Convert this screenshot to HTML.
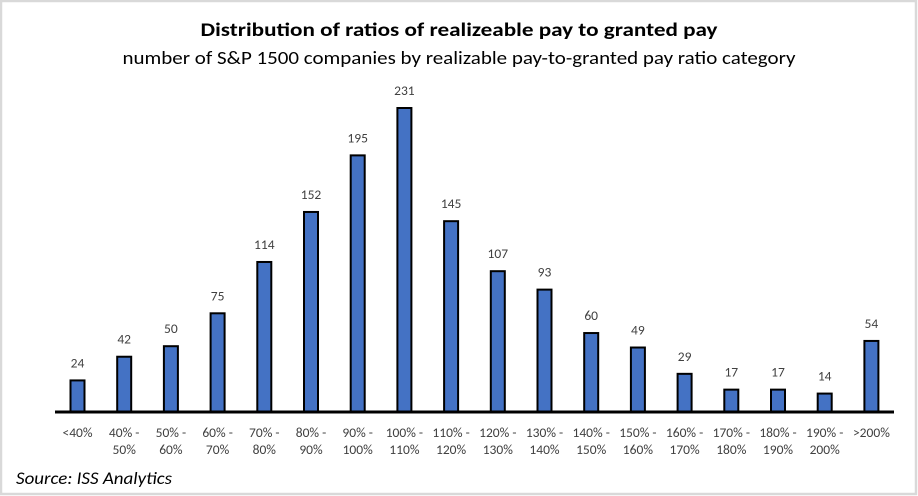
<!DOCTYPE html>
<html><head><meta charset="utf-8"><style>
html,body{margin:0;padding:0;background:#fff}
svg{display:block}
</style></head><body>
<svg width="918" height="496" viewBox="0 0 918 496" xmlns="http://www.w3.org/2000/svg" font-family="Calibri, Carlito, 'Liberation Sans', sans-serif">
<rect x="1" y="1" width="915" height="493" fill="#fff" stroke="#d9d9d9" stroke-width="2.5"/>
<text x="459" y="36" text-anchor="middle" font-size="19" font-weight="bold" fill="#000" textLength="517" lengthAdjust="spacingAndGlyphs">Distribution of ratios of realizeable pay to granted pay</text>
<text x="459" y="64" text-anchor="middle" font-size="18" fill="#000" textLength="673" lengthAdjust="spacingAndGlyphs">number of S&amp;P 1500 companies by realizable pay-to-granted pay ratio category</text>
<g id="bars"></g>
<line x1="55" y1="412" x2="894" y2="412" stroke="#000" stroke-width="3"/>
<text x="16" y="484" font-size="17" font-style="italic" fill="#000" textLength="156" lengthAdjust="spacingAndGlyphs">Source: ISS Analytics</text>
<g id="labels"></g>
</svg>
<script>
(function(){
var vals=[24,42,50,75,114,152,195,231,145,107,93,60,49,29,17,17,14,54];
var l1=["<40%","40% -","50% -","60% -","70% -","80% -","90% -","100% -","110% -","120% -","130% -","140% -","150% -","160% -","170% -","180% -","190% -",">200%"];
var l2=["","50%","60%","70%","80%","90%","100%","110%","120%","130%","140%","150%","160%","170%","180%","190%","200%",""];
var ns="http://www.w3.org/2000/svg";
var bars=document.getElementById("bars"),labs=document.getElementById("labels");
function t(x,y,s,p){var e=document.createElementNS(ns,"text");e.setAttribute("x",x);e.setAttribute("y",y);e.setAttribute("text-anchor","middle");e.setAttribute("font-size","13.5");e.setAttribute("fill","#404040");e.textContent=s;p.appendChild(e);}
for(var i=0;i<vals.length;i++){
 var cx=77.5+i*46.7,h=vals[i]*1.316,yy=412-h;
 var r=document.createElementNS(ns,"rect");
 r.setAttribute("x",cx-7);r.setAttribute("y",yy);r.setAttribute("width",14);r.setAttribute("height",h);
 r.setAttribute("fill","#4472C4");r.setAttribute("stroke","#000");r.setAttribute("stroke-width","2");
 bars.appendChild(r);
 t(cx,yy-13,String(vals[i]),labs);
 t(cx,437,l1[i],labs);
 if(l2[i])t(cx,454,l2[i],labs);
}
})();
</script>
</body></html>
